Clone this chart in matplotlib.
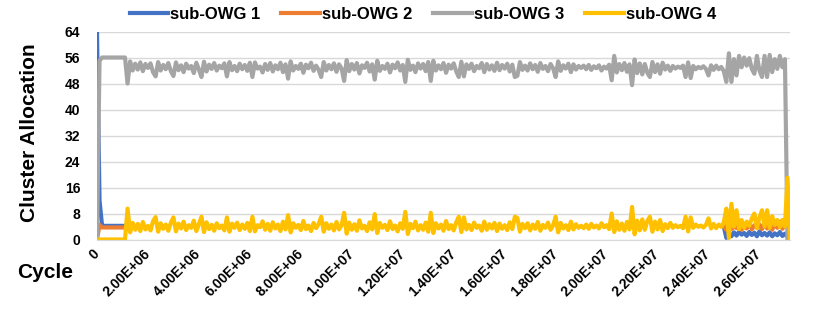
import numpy as np
import matplotlib
matplotlib.use("Agg")
from matplotlib import pyplot as plt

plt.rcParams["font.family"] = ["Liberation Sans", "DejaVu Sans"]

# cycle grid, one sample every 1e5 cycles
cycle = np.arange(273) * 1e5

# sub-OWG 4 (yellow)
owg4 = [
    0, 0, 0, 0, 0, 0, 0, 0, 0, 0,
    0, 0, 9.5, 2.2, 5.1, 3.0, 4.8, 2.6, 5.4, 3.1,
    4.2, 2.8, 5.6, 6.9, 2.4, 5.0, 3.3, 4.6, 2.7, 5.2,
    6.8, 2.5, 4.9, 3.4, 5.5, 2.9, 4.4, 3.6, 5.8, 2.6,
    4.7, 7.0, 2.3, 5.3, 3.2, 4.5, 2.7, 5.0, 3.5, 4.3,
    2.8, 6.8, 2.4, 4.9, 3.6, 5.2, 2.9, 4.6, 3.3, 5.1,
    2.6, 7.0, 2.5, 4.4, 3.8, 5.6, 3.0, 4.8, 2.7, 5.3,
    3.4, 4.6, 2.6, 5.5, 3.1, 7.5, 2.2, 5.0, 3.6, 4.5,
    2.9, 5.7, 3.2, 4.3, 2.6, 5.1, 3.5, 4.8, 7.0, 2.4,
    5.0, 3.3, 4.6, 2.8, 5.4, 3.1, 4.4, 8.2, 1.8, 5.2,
    3.0, 4.7, 2.7, 5.9, 3.4, 4.2, 2.6, 5.3, 3.1, 7.8,
    2.0, 5.1, 3.6, 4.5, 2.9, 5.6, 3.2, 4.3, 2.5, 5.0,
    3.3, 8.5, 1.7, 4.8, 3.5, 5.5, 2.8, 4.4, 3.0, 5.2,
    2.4, 8.2, 2.0, 5.0, 3.4, 4.6, 2.7, 5.7, 3.2, 4.4,
    2.8, 5.3, 7.0, 2.3, 6.8, 3.1, 4.5, 2.9, 5.2, 3.6,
    4.3, 2.7, 5.5, 3.0, 4.7, 3.4, 5.1, 2.6, 4.9, 3.3,
    4.4, 2.9, 5.3, 3.2, 7.0, 6.6, 2.4, 4.8, 3.5, 5.0,
    2.8, 4.6, 3.3, 5.4, 2.7, 4.5, 3.6, 5.2, 3.0, 4.3,
    7.0, 2.2, 5.1, 3.4, 4.4, 2.9, 5.5, 3.1, 4.7, 3.6,
    4.2, 3.5, 4.6, 3.3, 4.8, 3.7, 4.3, 3.4, 5.0, 3.8,
    4.4, 3.2, 8.0, 2.3, 5.6, 3.0, 4.9, 2.7, 5.4, 3.1,
    10.0, 1.6, 5.8, 2.8, 6.2, 3.0, 5.7, 7.0, 2.4, 5.5,
    3.1, 6.0, 2.6, 4.7, 3.5, 5.1, 3.6, 4.4, 3.8, 4.2,
    3.5, 7.0, 2.5, 6.8, 3.6, 4.6, 3.9, 4.3, 3.7, 4.5,
    6.5, 3.4, 4.8, 3.5, 4.6, 3.9, 5.2, 9.5, 0.5, 11.0,
    4.0, 9.0, 3.2, 6.0, 3.6, 5.5, 4.2, 6.5, 8.0, 3.5,
    6.8, 9.0, 4.0, 9.0, 3.6, 7.2, 4.5, 6.0, 3.8, 6.0,
    4.0, 19.0, 0.0,
]

# sub-OWG 3 (gray)
owg3 = [
    0, 55, 56, 56, 56, 56, 56, 56, 56, 56,
    56, 56, 48, 54.8, 52.0, 54.1, 52.3, 54.5, 51.8, 54.0,
    52.8, 54.2, 51.5, 50.2, 54.6, 52.0, 53.7, 52.4, 54.3, 51.8,
    50.3, 54.5, 52.1, 53.6, 51.5, 54.1, 52.6, 53.4, 51.2, 54.4,
    52.3, 50.0, 54.7, 51.7, 53.8, 52.5, 54.3, 52.0, 53.5, 52.7,
    54.2, 50.2, 54.6, 52.1, 53.4, 51.8, 54.1, 52.4, 53.7, 51.9,
    54.4, 50.0, 54.5, 52.6, 53.2, 51.4, 54.0, 52.2, 54.3, 51.7,
    53.6, 52.4, 54.4, 51.5, 53.9, 49.5, 54.8, 52.0, 53.4, 52.5,
    54.1, 51.3, 53.8, 52.7, 54.4, 51.9, 53.5, 52.2, 50.0, 54.6,
    52.0, 53.7, 52.4, 54.2, 51.6, 53.9, 52.6, 48.8, 55.2, 51.8,
    54.0, 52.3, 54.3, 51.1, 53.6, 52.8, 54.4, 51.7, 53.9, 49.2,
    55.0, 51.9, 53.4, 52.5, 54.1, 51.4, 53.8, 52.7, 54.5, 52.0,
    53.7, 48.5, 55.3, 52.2, 53.5, 51.5, 54.2, 52.6, 54.0, 51.8,
    54.6, 48.8, 55.0, 52.0, 53.6, 52.4, 54.3, 51.3, 53.8, 52.6,
    54.2, 51.7, 50.0, 54.7, 50.2, 53.9, 52.5, 54.1, 51.8, 53.4,
    52.7, 54.3, 51.5, 54.0, 52.3, 53.6, 51.9, 54.4, 52.1, 53.7,
    52.6, 54.1, 51.7, 53.8, 50.0, 50.4, 54.6, 52.2, 53.5, 52.0,
    54.2, 52.4, 53.7, 51.6, 54.3, 52.5, 53.4, 51.8, 54.0, 52.7,
    50.0, 54.8, 51.9, 53.6, 52.6, 54.1, 51.5, 53.9, 52.3, 53.4,
    52.8, 53.5, 52.4, 53.7, 52.2, 53.3, 52.7, 53.6, 52.0, 53.2,
    52.6, 53.8, 49.0, 56.5, 51.4, 54.0, 52.1, 54.3, 51.6, 53.9,
    47.5, 55.4, 51.2, 54.2, 50.8, 54.0, 51.3, 50.0, 54.6, 51.5,
    53.9, 51.0, 54.4, 52.3, 53.5, 51.9, 53.4, 52.6, 53.2, 52.8,
    53.5, 50.0, 54.5, 49.7, 53.4, 52.4, 53.1, 52.7, 53.3, 52.5,
    50.5, 53.6, 52.2, 53.5, 52.4, 53.1, 51.8, 48.5, 57.3, 48.5,
    55.5, 50.5, 56.5, 53.0, 56.0, 53.5, 55.8, 52.5, 51.0, 56.5,
    52.0, 50.0, 56.5, 50.0, 56.8, 51.5, 55.5, 52.5, 56.5, 53.0,
    55.5, 0, 0,
]

# sub-OWG 1 and 2 are only visible at the start and at the end
# (in between they sit under the yellow line)
owg1_head = [64, 12, 4.2, 4.2, 4.2, 4.2, 4.2, 4.2, 4.2, 4.2, 4.2, 4.2, 4.2]
owg1_tail = [4.0, 0.5, 2.0, 1.0, 2.2, 1.2, 2.4, 1.5, 2.0, 1.1, 2.3, 1.4, 2.1, 1.0,
             2.5, 1.3, 2.0, 1.2, 2.2, 1.0, 1.9, 1.3, 2.3, 1.1, 1.8, 0.8, 0]
owg2_head = [0, 4.5, 3.7, 3.7, 3.7, 3.7, 3.7, 3.7, 3.7, 3.7, 3.7, 3.7, 3.7]
owg2_tail = [4.0, 3.0, 4.5, 3.2, 4.0, 3.5, 4.8, 3.0, 4.2, 3.4, 5.0, 3.1, 4.4, 3.6,
             4.6, 3.2, 5.2, 3.4, 4.3, 3.0, 4.8, 3.6, 5.5, 3.3, 4.5, 6.0, 0]
TAIL_START = 246

xticks = np.arange(0, 2.7e7, 2e6)
xticklabels = ["0"] + [f"{v:.2E}" for v in xticks[1:]]
yticks = np.arange(0, 65, 8)


def split_series(head, tail):
    x = np.concatenate([cycle[:len(head)], [np.nan], cycle[TAIL_START:TAIL_START + len(tail)]])
    y = np.concatenate([head, [np.nan], tail])
    return x, y


fig = plt.figure(figsize=(8.31, 3.09), dpi=100)
ax = fig.add_axes([0.1167, 0.2249, 0.8340, 0.6731])

x1, y1 = split_series(owg1_head, owg1_tail)
x2, y2 = split_series(owg2_head, owg2_tail)
lw = 3.0
ax.plot(x1, y1, color="#4472C4", lw=lw, label="sub-OWG 1")
ax.plot(x2, y2, color="#ED7D31", lw=lw, label="sub-OWG 2")
ax.plot(cycle, owg3, color="#A5A5A5", lw=lw, label="sub-OWG 3")
ax.plot(cycle, owg4, color="#FFC000", lw=lw, label="sub-OWG 4")

ax.set_xlim(0, 2.72e7)
ax.set_ylim(0, 64)
ax.set_yticks(yticks)
ax.set_yticklabels([str(v) for v in yticks], fontsize=10, fontweight="bold")
ax.set_xticks(xticks)
ax.set_xticklabels(xticklabels, fontsize=10, fontweight="bold", rotation=45,
                   ha="right", va="center", rotation_mode="anchor")
ax.tick_params(axis="both", length=0)
ax.tick_params(axis="y", pad=12)
ax.tick_params(axis="x", pad=9)
ax.grid(axis="y", color="#D9D9D9", lw=1)
ax.set_axisbelow(True)
for side in ["top", "right", "left"]:
    ax.spines[side].set_visible(False)
ax.spines["bottom"].set_color("#D9D9D9")

fig.text(30 / 831, 1 - 133 / 309, "Cluster Allocation", rotation=90, fontsize=15,
         fontweight="bold", ha="center", va="center")
fig.text(45 / 831, 1 - 272 / 309, "Cycle", fontsize=15, fontweight="bold",
         ha="center", va="center")

fig.legend(loc="center", bbox_to_anchor=(0.509, 0.953), ncol=4, frameon=False,
           prop={"weight": "bold", "size": 12}, handlelength=2.3, handletextpad=0.15,
           columnspacing=1.25)

fig.savefig("out.png", dpi=100)
